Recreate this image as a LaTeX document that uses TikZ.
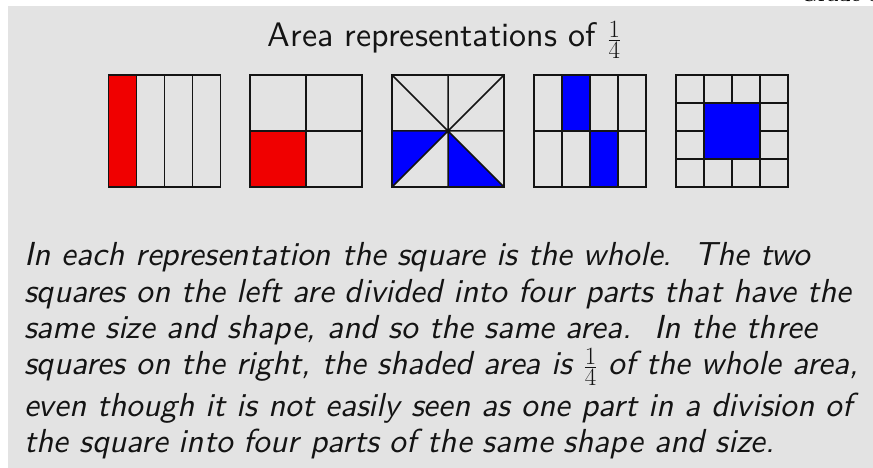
\documentclass[tikz,border=0pt]{standalone}
\usepackage{amsmath}
\definecolor{panel}{RGB}{227,227,227}
\definecolor{redfill}{RGB}{240,0,0}
\definecolor{bluefill}{RGB}{0,0,255}
\definecolor{ink}{RGB}{20,20,20}
\newcommand\lmsansup[1]{\font\lmsupfont="[lmsans10-regular]" at #1pt\lmsupfont}
\newcommand\lmsansob[1]{\font\lmobfont="[lmsans10-oblique]" at #1pt\lmobfont}
\begin{document}
\begin{tikzpicture}[x=1pt,y=-1pt,
  grid/.style={draw=ink,line width=1.7pt,line cap=rect},
  gridline/.style={draw=ink,line width=1.5pt},
  titletext/.style={font=\fontsize{34}{40}\selectfont\lmsansup{34},anchor=base,inner sep=0pt,text=ink},
  bodytext/.style={font=\fontsize{33.3}{40}\selectfont\lmsansob{33.3},anchor=base west,inner sep=0pt,text=ink}]
\useasboundingbox (0,0) rectangle (873,468);
\fill[white] (0,0) rectangle (873,468);
\fill[panel] (8,6) rectangle (873,468);
\node[font=\fontsize{20}{24}\selectfont\bfseries,anchor=base east,inner sep=0pt] (grade) at (880,2) {Grade 3};
\node[titletext] (title) at (444.5,47) {Area representations of $\frac14$};
% square 1
\begin{scope}[shift={(108.5,75)}]
  \fill[redfill] (0,0) rectangle (28,112);
  \draw[gridline] (28,0) -- (28,112) (56,0) -- (56,112) (84,0) -- (84,112);
  \draw[grid] (0,0) rectangle (112,112);
\end{scope}
% square 2
\begin{scope}[shift={(250,75)}]
  \fill[redfill] (0,56) rectangle (56,112);
  \draw[gridline] (56,0) -- (56,112) (0,56) -- (112,56);
  \draw[grid] (0,0) rectangle (112,112);
\end{scope}
% square 3
\begin{scope}[shift={(392,75)}]
  \fill[bluefill] (0,56) -- (56,56) -- (0,112) -- cycle;
  \fill[bluefill] (56,56) -- (56,112) -- (112,112) -- cycle;
  \draw[gridline] (56,0) -- (56,112) (0,56) -- (112,56) (0,0) -- (112,112) (112,0) -- (0,112);
  \draw[grid] (0,0) rectangle (112,112);
\end{scope}
% square 4
\begin{scope}[shift={(534,75)}]
  \fill[bluefill] (28,0) rectangle (56,56);
  \fill[bluefill] (56,56) rectangle (84,112);
  \draw[gridline] (28,0) -- (28,112) (56,0) -- (56,112) (84,0) -- (84,112) (0,56) -- (112,56);
  \draw[grid] (0,0) rectangle (112,112);
\end{scope}
% square 5
\begin{scope}[shift={(676,75)}]
  \fill[bluefill] (28,28) rectangle (84,84);
  \draw[gridline] (28,0) -- (28,112) (84,0) -- (84,112) (0,28) -- (112,28) (0,84) -- (112,84)
    (56,0) -- (56,28) (56,84) -- (56,112) (0,56) -- (28,56) (84,56) -- (112,56);
  \draw[grid] (0,0) rectangle (112,112);
\end{scope}
\node[bodytext] (l1) at (24,265) {In each representation the square is the whole.\ \ The two};
\node[bodytext] (l2) at (24,302) {squares on the left are divided into four parts that have the};
\node[bodytext] (l3) at (24,338) {same size and shape, and so the same area.\ \ In the three};
\node[bodytext] (l4) at (24,374) {squares on the right, the shaded area is $\frac14$ of the whole area,};
\node[bodytext] (l5) at (24,416) {even though it is not easily seen as one part in a division of};
\node[bodytext] (l6) at (24,452) {the square into four parts of the same shape and size.};
\end{tikzpicture}
\end{document}
